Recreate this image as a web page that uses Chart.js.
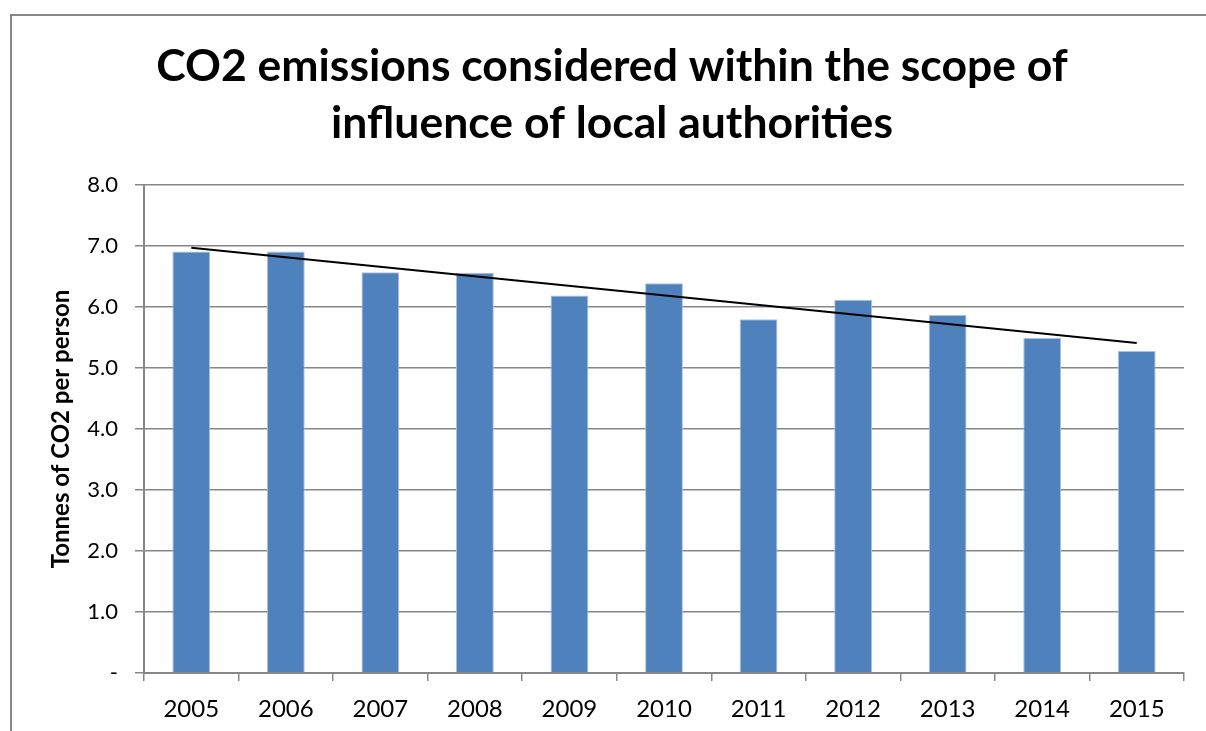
<!DOCTYPE html>
<html><head><meta charset="utf-8">
<script src="https://cdn.jsdelivr.net/npm/chart.js@4/dist/chart.umd.min.js"></script>
<style>
html,body{margin:0;padding:0;background:#fff;overflow:hidden;width:1206px;height:731px}
#frame{position:absolute;left:10px;top:14px;width:1300px;height:800px;border:2px solid #878787;box-sizing:border-box}
#wrap{position:absolute;left:0;top:0;width:1206px;height:731px}
</style></head><body>
<div id="frame"></div>
<div id="wrap"><canvas id="c" width="1206" height="731"></canvas></div>
<script>
// ---- data ----
const years = ['2005','2006','2007','2008','2009','2010','2011','2012','2013','2014','2015'];
const emissions = [6.91, 6.91, 6.57, 6.56, 6.19, 6.39, 5.80, 6.12, 5.87, 5.49, 5.28];
// linear trend line, endpoints (middle points left empty)
const trendLine = [6.97, null, null, null, null, null, null, null, null, null, 5.41];
const yMin = 0, yMax = 8, yStep = 1;
const titleLines = ['CO2 emissions considered within the scope of', 'influence of local authorities'];
const yAxisTitle = 'Tonnes of CO2 per person';

const FONT = 'Lato, "Open Sans", sans-serif';
const GRID = '#878787';

const titlePlugin = {
  id: 'twoLineTitle',
  afterDraw(chart) {
    const ctx = chart.ctx;
    ctx.save();
    ctx.fillStyle = '#000';
    ctx.font = 'bold 44.5px ' + FONT;
    ctx.textAlign = 'center';
    ctx.textBaseline = 'alphabetic';
    ctx.fillText(titleLines[0], 612, 81);
    ctx.fillText(titleLines[1], 612, 138);
    ctx.restore();
  }
};

new Chart(document.getElementById('c'), {
  type: 'bar',
  data: {
    labels: years,
    datasets: [
      {
        type: 'line',
        label: 'Trend',
        data: trendLine,
        spanGaps: true,
        borderColor: '#000',
        borderWidth: 2,
        pointRadius: 0,
        fill: false,
        order: 0
      },
      {
        label: 'CO2 per person',
        data: emissions,
        backgroundColor: '#4F81BD',
        borderColor: '#A9C1DF',
        borderWidth: 1,
        barPercentage: 0.4,
        categoryPercentage: 1.0,
        order: 1
      }
    ]
  },
  options: {
    responsive: false,
    animation: false,
    layout: { padding: { top: 185, right: 22, left: 0, bottom: 0 } },
    plugins: { legend: { display: false }, tooltip: { enabled: false }, title: { display: false } },
    scales: {
      x: {
        offset: true,
        grid: { offset: true, drawOnChartArea: false, drawTicks: true, tickLength: 8, color: GRID, lineWidth: 1.5 },
        border: { color: GRID, width: 2 },
        ticks: { color: '#000', font: { family: FONT, size: 24 }, padding: 14, maxRotation: 0 },
        afterFit(s) { s.height = 58; }
      },
      y: {
        min: yMin, max: yMax,
        grid: { color: GRID, lineWidth: 1.5, tickLength: 9 },
        border: { color: GRID, width: 2 },
        ticks: {
          stepSize: yStep, color: '#000', font: { family: FONT, size: 22 }, padding: 17,
          callback: v => v === 0 ? '-' : v.toFixed(1)
        },
        title: { display: true, text: yAxisTitle, color: '#000', font: { family: FONT, size: 24, weight: 'bold' }, padding: { top: 47, bottom: 0 } },
        afterFit(s) { s.width = 144; }
      }
    }
  },
  plugins: [titlePlugin]
});
</script>
</body></html>
